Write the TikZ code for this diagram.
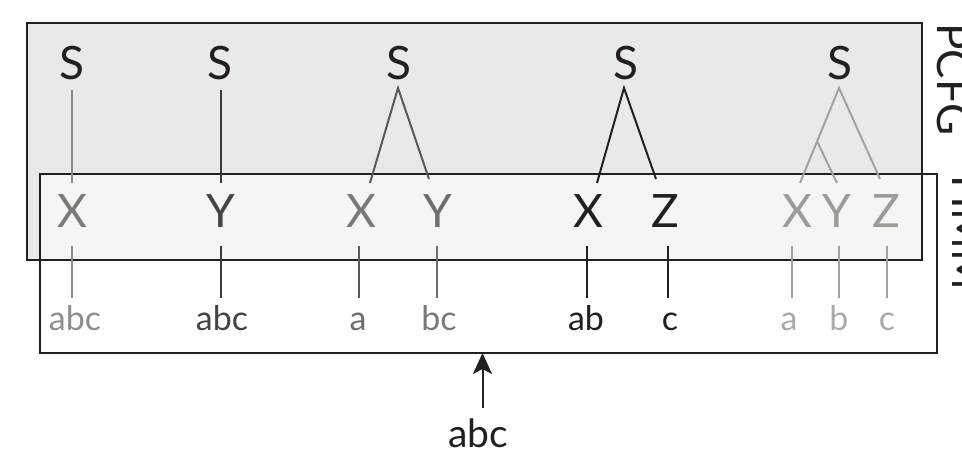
\documentclass[tikz,border=0pt]{standalone}
\usepackage{fontspec}
\setmainfont{Lato}
\usetikzlibrary{arrows.meta}
\definecolor{ink}{HTML}{231F20}
\definecolor{pcfgfill}{HTML}{E8E9EB}
\definecolor{hmmfill}{HTML}{F5F5F5}
\definecolor{gA}{HTML}{7B7A74}
\definecolor{gAline}{HTML}{8C8C86}
\definecolor{gAtext}{HTML}{8E8E8C}
\definecolor{gB}{HTML}{444444}
\definecolor{gBline}{HTML}{3A3A3A}
\definecolor{gC}{HTML}{5A5A55}
\definecolor{gCx}{HTML}{7A7A75}
\definecolor{gCy}{HTML}{6B6D70}
\definecolor{gE}{HTML}{9C9C97}
\definecolor{gEline}{HTML}{A2A29D}
\definecolor{gEtext}{HTML}{ABABA6}
\tikzset{
  big/.style={font=\fontsize{46}{46}\selectfont, anchor=base, inner sep=0pt},
  small/.style={font=\fontsize{34}{34}\selectfont, anchor=base, inner sep=0pt},
  tree/.style={line width=2pt},
  boxline/.style={draw=ink, line width=2.8pt},
  side/.style={font=\fontsize{44}{44}\selectfont, rotate=-90, anchor=base west, inner sep=0pt, text=ink},
}
\begin{document}
\begin{tikzpicture}[x=1pt,y=-1pt]
\clip (0,0) rectangle (962,454);
\useasboundingbox (0,0) rectangle (962,454);
% boxes
\fill[pcfgfill] (27,23) rectangle (922,260);
\fill[hmmfill] (40,174) rectangle (922,260);
\draw[boxline] (27,23) rectangle (922,260);
\draw[boxline] (40,174) rectangle (937,353);
\node[side] (pcfg) at (937,23) {PCFG};
\node[side] (hmm) at (952,175) {HMM};
% S nodes
\node[big, text=ink] (S1) at (72,80) {S};
\node[big, text=ink] (S2) at (220,80) {S};
\node[big, text=ink] (S3) at (399,80) {S};
\node[big, text=ink] (S4) at (626,80) {S};
\node[big, text=ink] (S5) at (840,80) {S};
% middle letters
\node[big, text=gA] (X1) at (72,228) {X};
\node[big, text=gB] (Y2) at (221,228) {Y};
\node[big, text=gCx] (X3) at (361,228) {X};
\node[big, text=gCy] (Y3) at (438,228) {Y};
\node[big, text=ink] (X4) at (588,228) {X};
\node[big, text=ink] (Z4) at (665,228) {Z};
\node[big, text=gE] (X5) at (797,228) {X};
\node[big, text=gE] (Y5) at (837,228) {Y};
\node[big, text=gE] (Z5) at (886,228) {Z};
% words
\node[small, text=gAtext] (w1) at (75,331) {abc};
\node[small, text=gB] (w2) at (222,331) {abc};
\node[small, text=gCy] (w3a) at (358,331) {a};
\node[small, text=gCx] (w3b) at (439,331) {bc};
\node[small, text=ink] (w4a) at (586,331) {ab};
\node[small, text=ink] (w4b) at (670,331) {c};
\node[small, text=gEtext] (w5a) at (789,331) {a};
\node[small, text=gEtext] (w5b) at (839,331) {b};
\node[small, text=gEtext] (w5c) at (887,331) {c};
\node[font=\fontsize{39}{39}\selectfont, anchor=base, inner sep=0pt, text=ink] (obs) at (478,448) {abc};
% anchor coordinates for tree lines
\coordinate (a1) at (72,90);   \coordinate (b1) at (72,183);
\coordinate (a2) at (221,90);  \coordinate (b2) at (221,183);
\coordinate (a3) at (398,88);  \coordinate (b3l) at (370,183); \coordinate (b3r) at (429,179);
\coordinate (a4) at (624,88);  \coordinate (b4l) at (597,183); \coordinate (b4r) at (656,179);
\coordinate (a5) at (839,88);  \coordinate (b5l) at (800,183); \coordinate (b5r) at (880,179);
\coordinate (m5) at (817.4,142); \coordinate (b5m) at (837,183);
\draw[tree, gAline] (a1) -- (b1);
\draw[tree, gBline] (a2) -- (b2);
\draw[tree, gC] (b3l) -- (a3) -- (b3r);
\draw[tree, ink] (b4l) -- (a4) -- (b4r);
\draw[tree, gEline] (b5l) -- (a5) -- (b5r);
\draw[tree, gEline] (m5) -- (b5m);
% emission lines
\coordinate (e1) at (72,246);  \coordinate (f1) at (72,298);
\coordinate (e2) at (221,246); \coordinate (f2) at (221,298);
\coordinate (e3) at (359,246); \coordinate (f3) at (359,298);
\coordinate (e4) at (437,246); \coordinate (f4) at (437,298);
\coordinate (e5) at (587,246); \coordinate (f5) at (587,298);
\coordinate (e6) at (668,246); \coordinate (f6) at (668,298);
\coordinate (e7) at (792,246); \coordinate (f7) at (792,298);
\coordinate (e8) at (839,246); \coordinate (f8) at (839,298);
\coordinate (e9) at (887,246); \coordinate (f9) at (887,298);
\draw[tree, gAline] (e1) -- (f1);
\draw[tree, gBline] (e2) -- (f2);
\draw[tree, gC] (e3) -- (f3);
\draw[tree, gCy] (e4) -- (f4);
\draw[tree, ink] (e5) -- (f5);
\draw[tree, ink] (e6) -- (f6);
\draw[tree, gEline] (e7) -- (f7);
\draw[tree, gEline] (e8) -- (f8);
\draw[tree, gEline] (e9) -- (f9);
% arrow
\coordinate (arrtail) at (482.5,408);
\coordinate (arrtip) at (482.5,353);
\draw[line width=2pt, ink, -{Stealth[length=21pt, width=19pt, inset=5pt]}] (arrtail) -- (arrtip);
\end{tikzpicture}
\end{document}
